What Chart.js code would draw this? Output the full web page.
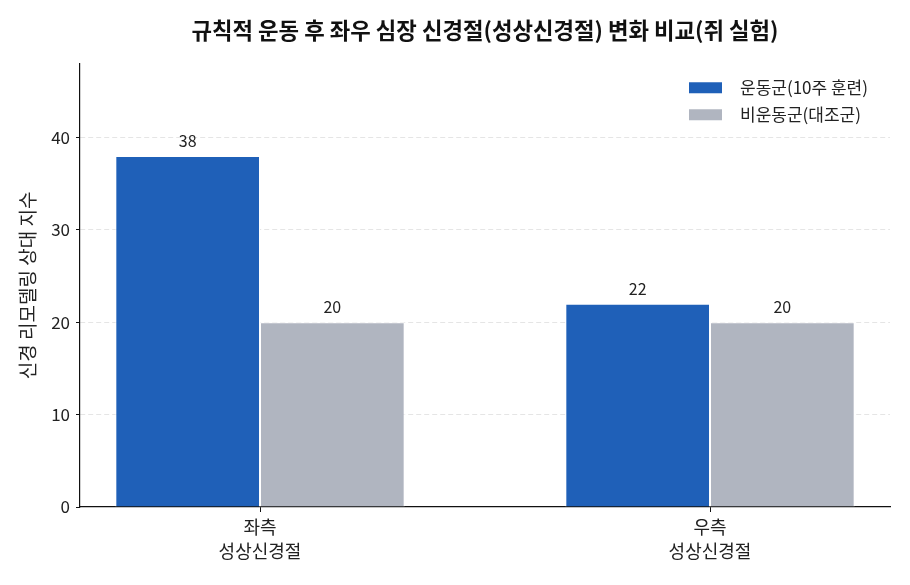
<!DOCTYPE html>
<html>
<head>
<meta charset="utf-8">
<script src="https://cdn.jsdelivr.net/npm/chart.js@4.4.1/dist/chart.umd.min.js"></script>
<style>
  body { margin: 0; background: #fff; }
  #wrap { width: 910px; height: 585px; }
</style>
</head>
<body>
<div id="wrap"><canvas id="c"></canvas></div>
<script>
const categories = [['좌측', '성상신경절'], ['우측', '성상신경절']];
const seriesNames = ['운동군(10주 훈련)', '비운동군(대조군)'];
const exerciseValues = [38, 22];
const controlValues = [20, 20];
const yTicks = [0, 10, 20, 30, 40];
const colors = ['#1f60b8', '#b0b5c0'];

const FONT = "'Noto Sans CJK KR', 'Noto Sans', sans-serif";
const xPos = categories.map((c, i) => i);

// value labels above each bar
const valueLabels = {
    id: 'valueLabels',
    afterDatasetsDraw(chart) {
        const ctx = chart.ctx;
        ctx.save();
        ctx.font = '16px ' + FONT;
        ctx.fillStyle = '#222';
        ctx.textAlign = 'center';
        ctx.textBaseline = 'alphabetic';
        chart.data.datasets.forEach((ds, di) => {
            chart.getDatasetMeta(di).data.forEach((el, i) => {
                ctx.fillText(ds.data[i].y, el.x, el.y - 9);
            });
        });
        ctx.restore();
    }
};

// legend inside the plot, top right
const insideLegend = {
    id: 'insideLegend',
    afterDraw(chart) {
        const ctx = chart.ctx;
        const area = chart.chartArea;
        const left = area.right - 201;
        ctx.save();
        ctx.font = '17px ' + FONT;
        ctx.textBaseline = 'middle';
        chart.data.datasets.forEach((ds, i) => {
            const cy = area.top + 24 + i * 27;
            ctx.fillStyle = ds.backgroundColor;
            ctx.fillRect(left, cy - 5.5, 33, 11);
            ctx.fillStyle = '#222';
            ctx.fillText(ds.label, left + 51, cy);
        });
        ctx.restore();
    }
};

new Chart(document.getElementById('c'), {
    type: 'bar',
    data: {
        datasets: [
            {
                label: seriesNames[0],
                data: xPos.map(i => ({ x: i, y: exerciseValues[i] })),
                backgroundColor: colors[0],
                borderColor: '#ffffff',
                borderWidth: 1
            },
            {
                label: seriesNames[1],
                data: xPos.map(i => ({ x: i, y: controlValues[i] })),
                backgroundColor: colors[1],
                borderColor: '#ffffff',
                borderWidth: 1
            }
        ]
    },
    options: {
        responsive: true,
        maintainAspectRatio: false,
        animation: false,
        categoryPercentage: 0.643,
        barPercentage: 1,
        layout: { padding: { left: 0, right: 20, top: 0, bottom: 0 } },
        plugins: {
            legend: { display: false },
            tooltip: { enabled: false },
            title: {
                display: true,
                fullSize: false,
                text: '규칙적 운동 후 좌우 심장 신경절(성상신경절) 변화 비교(쥐 실험)',
                color: '#111',
                font: { family: FONT, size: 22.3, weight: 'bold' },
                padding: { top: 17, bottom: 20 }
            }
        },
        scales: {
            x: {
                type: 'linear',
                offset: false,
                min: -0.4,
                max: 1.4,
                afterBuildTicks(scale) {
                    scale.ticks = xPos.map(v => ({ value: v }));
                },
                afterFit(scale) { scale.height = 78; },
                ticks: {
                    callback: (v) => categories[v],
                    color: '#222',
                    font: { family: FONT, size: 18, lineHeight: 1.35 },
                    padding: 3,
                    maxRotation: 0
                },
                grid: {
                    offset: false,
                    drawOnChartArea: false,
                    drawTicks: true,
                    tickLength: 5,
                    tickColor: '#111',
                    tickWidth: 1
                },
                border: { display: true, color: '#111', width: 1.2 }
            },
            y: {
                min: 0,
                max: 48,
                z: 1,
                afterBuildTicks(scale) {
                    scale.ticks = yTicks.map(v => ({ value: v }));
                },
                afterFit(scale) { scale.width = 80; },
                title: {
                    display: true,
                    text: '신경 리모델링 상대 지수',
                    color: '#222',
                    font: { family: FONT, size: 19 },
                    padding: { top: 16, bottom: 0 }
                },
                ticks: {
                    color: '#222',
                    font: { family: FONT, size: 17 },
                    padding: 6
                },
                grid: {
                    color: (c) => c.tick && c.tick.value === 0 ? 'rgba(0,0,0,0)' : 'rgba(170,170,170,0.3)',
                    lineWidth: 1,
                    drawTicks: true,
                    tickLength: 4,
                    tickColor: '#111',
                    tickBorderDash: [],
                    tickWidth: 1
                },
                border: { display: true, color: '#111', width: 1.2, dash: [5, 3] }
            }
        }
    },
    plugins: [valueLabels, insideLegend]
});
</script>
</body>
</html>
